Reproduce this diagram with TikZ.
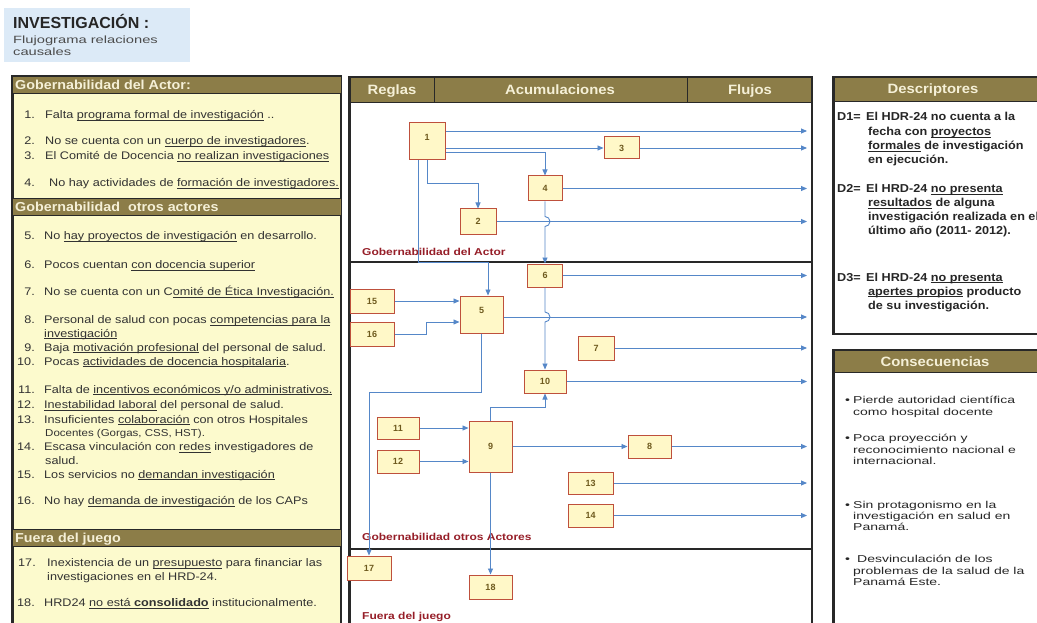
\documentclass[tikz,border=0pt]{standalone}
\usepackage{fontspec}
\setmainfont{Liberation Sans}
\newfontfamily\ffItems{Liberation Sans}[FakeStretch=1.15]
\newfontfamily\ffLabel{Liberation Sans}[FakeStretch=1.2]
\newfontfamily\ffCons{Liberation Sans}[FakeStretch=1.4]
\newfontfamily\ffHead{Liberation Sans}[FakeStretch=1.1]
\usetikzlibrary{arrows.meta}
\definecolor{hdrc}{RGB}{140,125,72}
\definecolor{hdrtext}{RGB}{245,240,215}
\definecolor{panelbg}{RGB}{252,250,205}
\definecolor{lefttext}{RGB}{50,50,50}
\definecolor{boxfill}{RGB}{255,248,200}
\definecolor{boxline}{RGB}{190,80,60}
\definecolor{boxnum}{RGB}{110,90,30}
\definecolor{arrblue}{RGB}{85,135,200}
\definecolor{sectred}{RGB}{150,30,40}
\definecolor{titlebg}{RGB}{220,234,247}
\definecolor{framec}{RGB}{40,40,40}
\newsavebox{\myulbox}
\newcommand{\myul}[1]{\sbox{\myulbox}{#1}\rlap{\rule[-1.8pt]{\wd\myulbox}{0.6pt}}\usebox{\myulbox}}
\tikzset{
 itm/.style={anchor=base west, inner sep=0, font=\ffItems\fontsize{11}{13}\selectfont, text=lefttext},
 num/.style={anchor=base east, inner sep=0, font=\ffItems\fontsize{11}{13}\selectfont, text=lefttext},
 hdrtxt/.style={anchor=base west, inner sep=0, font=\ffHead\bfseries\fontsize{13}{15}\selectfont, text=hdrtext},
 colhdr/.style={anchor=base, inner sep=0, font=\ffHead\bfseries\fontsize{13.5}{15}\selectfont, text=hdrtext},
 desc/.style={anchor=base west, inner sep=0, font=\ffHead\bfseries\fontsize{11.5}{13}\selectfont, text=black!85},
 cons/.style={anchor=base west, inner sep=0, font=\ffCons\fontsize{10}{12}\selectfont, text=black!85},
 sect/.style={anchor=base west, inner sep=0, font=\ffLabel\bfseries\fontsize{10}{12}\selectfont, text=sectred},
 bx/.style={draw=boxline, fill=boxfill, line width=1pt, inner sep=0, font=\bfseries\fontsize{9}{10}\selectfont, text=boxnum},
 arr/.style={draw=arrblue, line width=0.9pt, -{Triangle[length=6pt,width=5pt]}},
 hdrbar/.style={fill=hdrc, draw=framec, line width=0.8pt},
 frm/.style={draw=framec, line width=1.2pt},
}
\begin{document}
\begin{tikzpicture}[x=1pt,y=-1pt]
\useasboundingbox (0,0) rectangle (1037,623);
\clip (0,0) rectangle (1037,623);
\fill[white] (0,0) rectangle (1037,623);

% ---------- title ----------
\fill[titlebg] (4,8) rectangle (190,62);
\node[anchor=base west, inner sep=0, font=\bfseries\fontsize{16}{18}\selectfont, text=black!85] (title) at (13,29) {INVESTIGACIÓN :};
\node[anchor=base west, inner sep=0, font=\ffCons\fontsize{10.5}{12}\selectfont, text=black!70] (sub1) at (13,43.5) {Flujograma relaciones};
\node[anchor=base west, inner sep=0, font=\ffCons\fontsize{10.5}{12}\selectfont, text=black!70] (sub2) at (13,55.5) {causales};

% ---------- left panel ----------
\fill[panelbg] (12,76) rectangle (341,640);
\draw[frm] (12,76) rectangle (341,640);
\draw[framec, line width=3pt] (12,76) -- (12,640);
\draw[hdrbar] (12,76) rectangle (341,93);
\draw[hdrbar] (12,198) rectangle (341,215);
\draw[hdrbar] (12,529) rectangle (341,546);
\node[hdrtxt] (lh1) at (15,89.2) {Gobernabilidad del Actor:};
\node[hdrtxt] (lh2) at (15,211.2) {Gobernabilidad~ otros actores};
\node[hdrtxt] (lh3) at (15,542.2) {Fuera del juego};

\node[num] (n1) at (35,118.5) {1.};
\node[itm] (t1) at (45,118.5) {Falta \myul{programa formal de investigación} ..};
\node[num] (n2) at (35,145) {2.};
\node[itm] (t2) at (45,145) {No se cuenta con un \myul{cuerpo de investigadores}.};
\node[num] (n3) at (35,159.5) {3.};
\node[itm] (t3) at (45,159.5) {El Comité de Docencia \myul{no realizan investigaciones}};
\node[num] (n4) at (35,186.5) {4.};
\node[itm] (t4) at (49,186.5) {No hay actividades de \myul{formación de investigadores.}};

\node[num] (n5) at (35,240) {5.};
\node[itm] (t5) at (44,240) {No \myul{hay proyectos de investigación} en desarrollo.};
\node[num] (n6) at (35,268.5) {6.};
\node[itm] (t6) at (44,268.5) {Pocos cuentan \myul{con docencia superior}};
\node[num] (n7) at (35,295.5) {7.};
\node[itm] (t7) at (44,295.5) {No se cuenta con un C\myul{omité de Ética Investigación.}};
\node[num] (n8) at (35,323.5) {8.};
\node[itm] (t8) at (44,323.5) {Personal de salud con pocas \myul{competencias para la}};
\node[itm] (t8b) at (44,337) {\myul{investigación}};
\node[num] (n9) at (35,351) {9.};
\node[itm] (t9) at (44,351) {Baja \myul{motivación profesional} del personal de salud.};
\node[num] (n10) at (35,365) {10.};
\node[itm] (t10) at (44,365) {Pocas \myul{actividades de docencia hospitalaria}.};
\node[num] (n11) at (35,393) {11.};
\node[itm] (t11) at (44,393) {Falta de \myul{incentivos económicos y/o administrativos.}};
\node[num] (n12) at (35,408.5) {12.};
\node[itm] (t12) at (44,408.5) {\myul{Inestabilidad laboral} del personal de salud.};
\node[num] (n13) at (35,423) {13.};
\node[itm] (t13) at (44,423) {Insuficientes \myul{colaboración} con otros Hospitales};
\node[itm, font=\ffItems\fontsize{10}{12}\selectfont] (t13b) at (45,436.5) {Docentes (Gorgas, CSS, HST).};
\node[num] (n14) at (35,450.5) {14.};
\node[itm] (t14) at (44,450.5) {Escasa vinculación con \myul{redes} investigadores de};
\node[itm] (t14b) at (45,464) {salud.};
\node[num] (n15) at (35,478) {15.};
\node[itm] (t15) at (44,478) {Los servicios no \myul{demandan investigación}};
\node[num] (n16) at (35,504.5) {16.};
\node[itm] (t16) at (44,504.5) {No hay \myul{demanda de investigación} de los CAPs};

\node[num] (n17) at (36,566.5) {17.};
\node[itm] (t17) at (47,566.5) {Inexistencia de un \myul{presupuesto} para financiar las};
\node[itm] (t17b) at (47,580.5) {investigaciones en el HRD-24.};
\node[num] (n18) at (35,606.5) {18.};
\node[itm] (t18) at (44,606.5) {HRD24 \myul{no está \textbf{consolidado}} institucionalmente.};

% ---------- centre panel ----------
\draw[hdrbar] (349,77) rectangle (812,102);
\draw[framec, line width=0.8pt] (434,77) -- (434,102);
\draw[framec, line width=0.8pt] (687,77) -- (687,102);
\draw[frm] (349,77) rectangle (812,640);
\draw[framec, line width=3pt] (349,77) -- (349,640);
\draw[framec, line width=1.2pt] (349,262) -- (812,262);
\draw[framec, line width=1.2pt] (349,549) -- (812,549);
\node[colhdr] (hR) at (392,95) {Reglas};
\node[colhdr] (hA) at (560,95) {Acumulaciones};
\node[colhdr] (hF) at (750,95) {Flujos};

\node[sect] (s1) at (362,255.5) {Gobernabilidad del Actor};
\node[sect] (s2) at (362,540.5) {Gobernabilidad otros Actores};
\node[sect] (s3) at (362,619.5) {Fuera del juego};

% boxes
\node[bx, minimum width=36pt, minimum height=37pt] (b1) at (427,141.5) {\raisebox{8pt}{1}};
\node[bx, minimum width=35pt, minimum height=22pt] (b3) at (621.5,148) {3};
\node[bx, minimum width=34pt, minimum height=25pt] (b4) at (545,188.5) {4};
\node[bx, minimum width=36pt, minimum height=25pt] (b2) at (478,221.5) {2};
\node[bx, minimum width=35pt, minimum height=23pt] (b6) at (545,275.5) {6};
\node[bx, minimum width=44pt, minimum height=24pt] (b15) at (372,301) {15};
\node[bx, minimum width=44pt, minimum height=24pt] (b16) at (372,334) {16};
\node[bx, minimum width=43pt, minimum height=37pt] (b5) at (481.5,314.5) {\raisebox{8pt}{5}};
\node[bx, minimum width=36pt, minimum height=24pt] (b7) at (596,348) {7};
\node[bx, minimum width=42pt, minimum height=23pt] (b10) at (545,381.5) {10};
\node[bx, minimum width=42pt, minimum height=22pt] (b11) at (398,428) {11};
\node[bx, minimum width=42pt, minimum height=23pt] (b12) at (398,461.5) {12};
\node[bx, minimum width=43pt, minimum height=51pt] (b9) at (490.5,446.5) {9};
\node[bx, minimum width=43pt, minimum height=23pt] (b8) at (649.5,446.5) {8};
\node[bx, minimum width=45pt, minimum height=22pt] (b13) at (590.5,483) {13};
\node[bx, minimum width=45pt, minimum height=23pt] (b14) at (590.5,515.5) {14};
\node[bx, minimum width=44pt, minimum height=24pt] (b17) at (369,568) {17};
\node[bx, minimum width=43pt, minimum height=24pt] (b18) at (490.5,587) {18};

\coordinate (E) at (807,0);
\coordinate (p1) at ([yshift=10.5pt]b1.east);
\coordinate (p2) at ([yshift=-10.5pt]b1.east);
\coordinate (p3) at ([xshift=-9pt]b1.south);
\coordinate (p4) at ([xshift=6.5pt]b5.north);
\coordinate (p5) at ([yshift=-2.5pt]b5.east);
\coordinate (p6) at ([yshift=-7.5pt]b5.west);
\coordinate (h1) at (b4.south |- b2.east);
\coordinate (h2) at (b6.south |- p5);

% connectors
\draw[arr] (p1) -- (p1 -| E);
\draw[arr] (b1.east |- b3.west) -- (b3.west);
\draw[arr] (b3.east) -- (b3.east -| E);
\draw[arr] (p2) -| (b4.north);
\draw[arr] (b1.south) |- ([yshift=25pt]b2.north) -- (b2.north);
\draw[arr] (p3) |- ([yshift=33pt]p4) -- (p4);
\draw[arr] (b4.east) -- (b4.east -| E);
\draw[arr] (b2.east) -- (b2.east -| E);
\draw[arr] (b4.south) -- ([yshift=5pt]h1) arc[start angle=90, end angle=-90, radius=5pt] -- (b6.north);
\draw[arr] (b6.east) -- (b6.east -| E);
\draw[arr] (b15.east) -- (b15.east -| b5.west);
\draw[arr] (b16.east) -| ([xshift=-33pt]p6) -- (p6);
\draw[arr] (p5) -- (p5 -| E);
\draw[arr] (b6.south) -- ([yshift=5pt]h2) arc[start angle=90, end angle=-90, radius=5pt] -- (b10.north);
\draw[arr] (b7.east) -- (b7.east -| E);
\draw[arr] (b10.east) -- (b10.east -| E);
\draw[arr] (b5.south) |- ([yshift=163pt]b17.north) -- (b17.north);
\draw[arr] (b11.east) -- (b11.east -| b9.west);
\draw[arr] (b12.east) -- (b12.east -| b9.west);
\draw[arr] (b9.north) |- ([yshift=-14pt]b10.south) -- (b10.south);
\draw[arr] (b9.east) -- (b8.west);
\draw[arr] (b8.east) -- (b8.east -| E);
\draw[arr] (b13.east) -- (b13.east -| E);
\draw[arr] (b14.east) -- (b14.east -| E);
\draw[arr] (b9.south) -- (b18.north);

% ---------- right panels ----------
\fill[white] (833,77) rectangle (1045,334);
\draw[hdrbar] (833,77) rectangle (1045,101);
\draw[frm] (833,77) rectangle (1045,334);
\draw[framec, line width=3pt] (833,77) -- (833,334);
\node[colhdr] (hD) at (933,94) {Descriptores};

\node[desc] (d1l) at (837,121) {D1=};
\node[desc] (d1a) at (866,121) {El HDR-24 no cuenta a la};
\node[desc] (d1b) at (868,135.5) {fecha con \myul{proyectos}};
\node[desc] (d1c) at (868,149.5) {\myul{formales} de investigación};
\node[desc] (d1d) at (868,163.5) {en ejecución.};
\node[desc] (d2l) at (837,193) {D2=};
\node[desc] (d2a) at (866,193) {El HRD-24 \myul{no presenta}};
\node[desc] (d2b) at (868,207) {\myul{resultados} de alguna};
\node[desc] (d2c) at (868,221) {investigación realizada en el};
\node[desc] (d2d) at (868,234.5) {último año (2011- 2012).};
\node[desc] (d3l) at (837,281) {D3=};
\node[desc] (d3a) at (866,281) {El HRD-24 \myul{no presenta}};
\node[desc] (d3b) at (868,295) {\myul{apertes propios} producto};
\node[desc] (d3c) at (868,309) {de su investigación.};

\fill[white] (833,350) rectangle (1045,640);
\draw[hdrbar] (833,350) rectangle (1045,372);
\draw[frm] (833,350) rectangle (1045,640);
\draw[framec, line width=3pt] (833,350) -- (833,640);
\node[colhdr] (hC) at (935,366) {Consecuencias};

\node[cons] (c1d) at (845,403) {•};
\node[cons] (c1a) at (853,403) {Pierde autoridad científica};
\node[cons] (c1b) at (853,415) {como hospital docente};
\node[cons] (c2d) at (845,441) {•};
\node[cons] (c2a) at (853,441) {Poca proyección y};
\node[cons] (c2b) at (853,453) {reconocimiento nacional e};
\node[cons] (c2c) at (853,464) {internacional.};
\node[cons] (c3d) at (845,508) {•};
\node[cons] (c3a) at (853,508) {Sin protagonismo en la};
\node[cons] (c3b) at (853,519) {investigación en salud en};
\node[cons] (c3c) at (853,530) {Panamá.};
\node[cons] (c4d) at (845,562) {•};
\node[cons] (c4a) at (857,562) {Desvinculación de los};
\node[cons] (c4b) at (853,574) {problemas de la salud de la};
\node[cons] (c4c) at (853,585) {Panamá Este.};
\end{tikzpicture}
\end{document}
